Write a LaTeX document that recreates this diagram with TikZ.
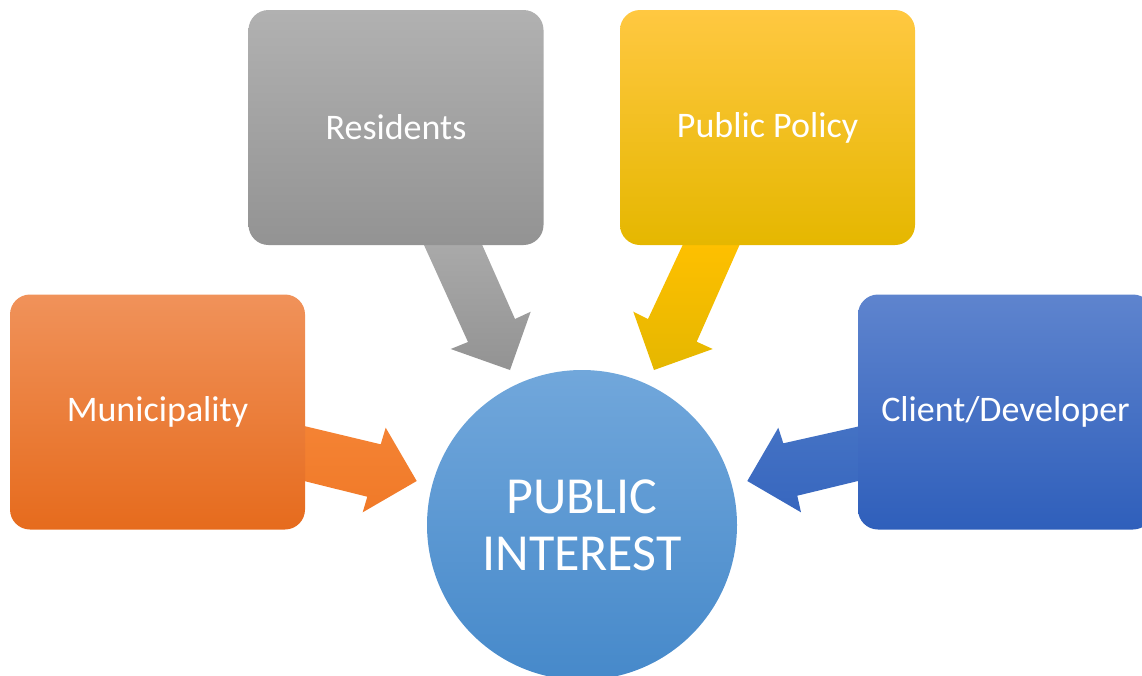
\documentclass[tikz,border=0pt]{standalone}
\usepackage{fontspec}
\setmainfont{Carlito}
\definecolor{grayT}{HTML}{B1B1B1}
\definecolor{grayM}{HTML}{A5A5A5}
\definecolor{grayB}{HTML}{939393}
\definecolor{yelT}{HTML}{FFC841}
\definecolor{yelM}{HTML}{FFC000}
\definecolor{yelB}{HTML}{E5B700}
\definecolor{orT}{HTML}{F0925A}
\definecolor{orM}{HTML}{F5802D}
\definecolor{orB}{HTML}{E66B1D}
\definecolor{blT}{HTML}{5E84CE}
\definecolor{blM}{HTML}{4472C4}
\definecolor{blB}{HTML}{2F5FBB}
\definecolor{ciT}{HTML}{71A7DB}
\definecolor{ciM}{HTML}{5B9BD5}
\definecolor{ciB}{HTML}{4689CA}
\tikzset{
  box/.style={rounded corners=20pt, minimum width=295pt, minimum height=235pt,
    inner sep=0pt, text=white, font=\fontsize{36}{40}\selectfont},
  arr/.style={draw=none},
}
\begin{document}
\begin{tikzpicture}[x=1pt,y=-1pt]
\useasboundingbox (0,0) rectangle (1142,675);
% arrows (behind boxes)
\path[arr, top color=grayM!60!grayT, bottom color=grayB]
  (421.7,240) -- (480,240) -- (515,319) -- (530.7,311.7) -- (510,370)
  -- (450.7,349) -- (468,342) -- cycle;
\path[arr, top color=yelM, bottom color=yelB]
  (741.7,240) -- (685,240) -- (648,319) -- (633.3,311.7) -- (654,370)
  -- (712.7,349) -- (696.7,341.7) -- cycle;
\path[arr, top color=orM!85!orT, bottom color=orM!70!orB]
  (300,425) -- (380.7,444.3) -- (385.7,427.7) -- (416.7,481)
  -- (362.7,512.3) -- (367.3,496.7) -- (300,480) -- cycle;
\path[arr, top color=blM, bottom color=blM!40!blB]
  (865,425) -- (783.3,443.3) -- (778.3,427.7) -- (747.3,481)
  -- (801,512.3) -- (797.3,495.7) -- (865,479.3) -- cycle;
% boxes
\node[box, top color=grayT, middle color=grayM, bottom color=grayB] (res) at (396,127.5) {Residents};
\node[box, top color=yelT, middle color=yelM, bottom color=yelB] (pol) at (767.5,127.5) {Public Policy};
\node[box, top color=orT, middle color=orM, bottom color=orB] (mun) at (157.5,412) {Municipality};
\node[box, top color=blT, middle color=blM, bottom color=blB] (cli) at (1005.5,412) {Client/Developer};
% circle
\node[circle, minimum size=310pt, inner sep=0pt, top color=ciT, middle color=ciM, bottom color=ciB,
  text=white, align=center, font=\fontsize{52}{57}\selectfont] (pi) at (582,525)
  {PUBLIC\\INTEREST};
\end{tikzpicture}
\end{document}
